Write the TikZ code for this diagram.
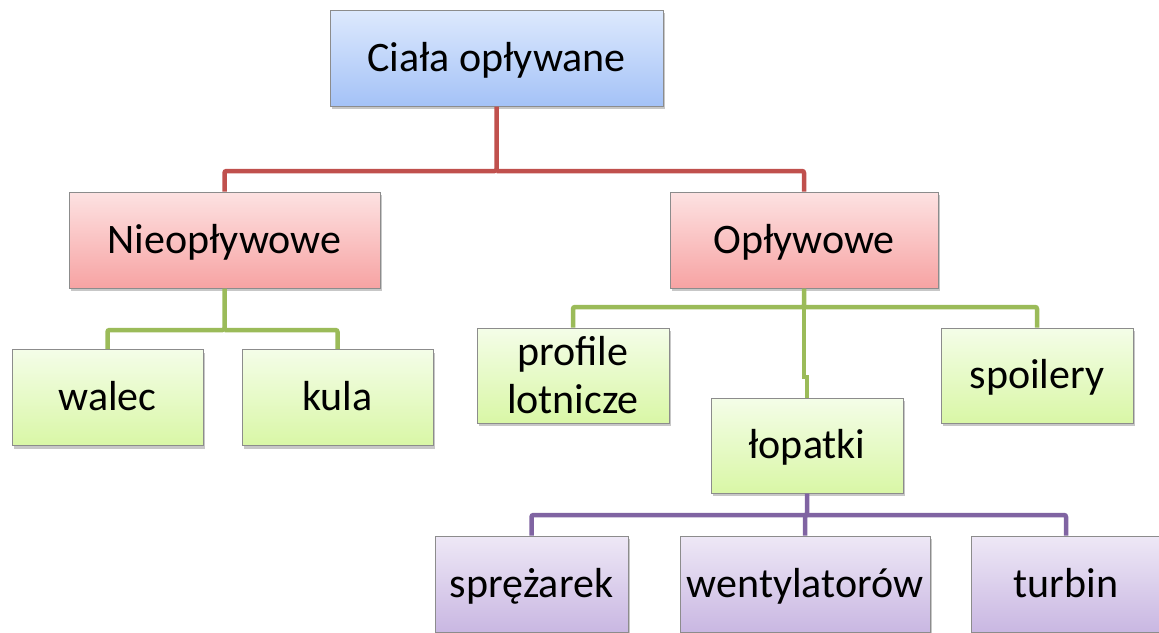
\documentclass[tikz,border=0pt]{standalone}
\usepackage{fontspec}
\setmainfont{Carlito}
\usetikzlibrary{shadows}
\definecolor{linered}{HTML}{C0504D}
\definecolor{linegreen}{HTML}{9BBB59}
\definecolor{linepurple}{HTML}{8064A2}
\definecolor{boxedge}{HTML}{8C8C8C}
\definecolor{bluetop}{HTML}{DDE9FD}
\definecolor{bluebot}{HTML}{A4C2F7}
\definecolor{redtop}{HTML}{FDE2E2}
\definecolor{redbot}{HTML}{F7A3A3}
\definecolor{greentop}{HTML}{F4FDE8}
\definecolor{greenbot}{HTML}{D9F7A6}
\definecolor{purpletop}{HTML}{EEE8F6}
\definecolor{purplebot}{HTML}{C9B7E2}

\begin{document}
\begin{tikzpicture}[x=1pt, y=-1pt,
  box/.style={draw=boxedge, line width=1pt, inner sep=0pt, minimum height=96pt, align=center,
    font=\fontsize{42}{48}\selectfont, text height=34pt, text depth=8pt,
    drop shadow={shadow xshift=2pt, shadow yshift=-3pt, opacity=.22, fill=black}},
  bluebox/.style={box, top color=bluetop, bottom color=bluebot},
  redbox/.style={box, top color=redtop, bottom color=redbot},
  greenbox/.style={box, top color=greentop, bottom color=greenbot},
  purplebox/.style={box, top color=purpletop, bottom color=purplebot},
  link/.style={line width=4.5pt, rounded corners=2pt}]
\useasboundingbox (0,0) rectangle (1159,632);
\node[bluebox, minimum width=333pt] (ciala) at (496.5,58) {Ciała opływane};
\node[redbox, minimum width=311pt] (nieop) at (224.5,240) {Nieopływowe};
\node[redbox, minimum width=268pt] (oplyw) at (804,240) {Opływowe};
\node[greenbox, minimum width=191pt] (walec) at (107.5,397.5) {walec};
\node[greenbox, minimum width=191pt] (kula) at (337.5,397.5) {kula};
\node[greenbox, minimum width=192pt, minimum height=95pt, text height=, text depth=] (profile) at (573,375.5) {profile\\lotnicze};
\node[greenbox, minimum width=192pt, minimum height=95pt] (spoilery) at (1037,375.5) {spoilery};
\node[greenbox, minimum width=192pt, minimum height=95pt] (lopatki) at (807,445.5) {łopatki};
\node[purplebox, minimum width=193pt] (sprez) at (531.5,584) {sprężarek};
\node[purplebox, minimum width=250pt] (wentyl) at (805,584) {wentylatorów};
\node[purplebox, minimum width=190pt] (turbin) at (1066,584) {turbin};
\coordinate (j1) at (496.5,171);
\draw[link, linered] (ciala.south) -- (j1) -| (nieop.north);
\draw[link, linered] (j1) -| (oplyw.north);
\coordinate (j2) at (224.5,330);
\draw[link, linegreen] (nieop.south) -- (j2) -| (walec.north);
\draw[link, linegreen] (j2) -| (kula.north);
\coordinate (j3) at (804,307);
\draw[link, linegreen] (oplyw.south) -- (j3) -| (profile.north);
\draw[link, linegreen] (j3) -| (spoilery.north);
\draw[link, linegreen, sharp corners] (j3) -- ++(0,70) -| (lopatki.north);
\coordinate (j4) at (807,515);
\draw[link, linepurple] (lopatki.south) -- (j4) -| (sprez.north);
\draw[link, linepurple] (j4) -| (wentyl.north);
\draw[link, linepurple] (j4) -| (turbin.north);
\end{tikzpicture}
\end{document}
